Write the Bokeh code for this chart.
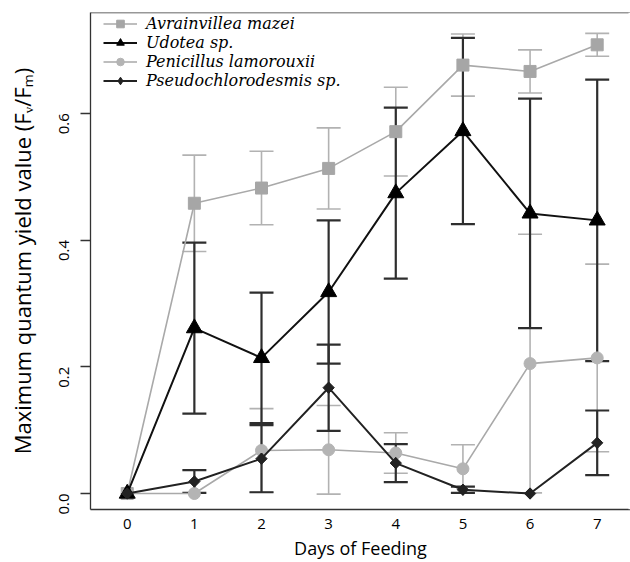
import math
from bokeh.plotting import figure
from bokeh.models import (ColumnDataSource, Legend, LegendItem, FixedTicker,
                          Range1d, Span)
from bokeh.embed import file_html
from bokeh.resources import INLINE

# ---------------- data ----------------
days = [0, 1, 2, 3, 4, 5, 6, 7]
avr_mean = [0.0, 0.458, 0.482, 0.513, 0.571, 0.676, 0.666, 0.708]
avr_err = [0.0, 0.076, 0.058, 0.064, 0.070, 0.049, 0.034, 0.018]
udo_mean = [0.0, 0.261, 0.214, 0.318, 0.474, 0.572, 0.442, 0.431]
udo_err = [0.0, 0.135, 0.103, 0.113, 0.135, 0.147, 0.181, 0.222]
pen_mean = [0.0, 0.0, 0.068, 0.069, 0.064, 0.039, 0.205, 0.214]
pen_err = [0.0, 0.0, 0.066, 0.070, 0.032, 0.038, 0.204, 0.148]
pse_mean = [0.0, 0.019, 0.055, 0.167, 0.048, 0.006, 0.0, 0.080]
pse_err = [0.0, 0.018, 0.053, 0.068, 0.030, 0.005, 0.0, 0.051]

series_names = ["Avrainvillea mazei", "Udotea sp.", "Penicillus lamorouxii",
                "Pseudochlorodesmis sp."]
x_ticks = [0, 1, 2, 3, 4, 5, 6, 7]
y_ticks = [0.0, 0.2, 0.4, 0.6]
y_tick_labels = ["0.0", "0.2", "0.4", "0.6"]
x_title = "Days of Feeding"
y_title = "Maximum quantum yield value (F\u1d65/F\u2098)"

GRAY_LINE = "#a9a9a9"
GRAY_ERR = "#b2b2b2"
BLACK_ERR = "#2e2e2e"
X_END = 7.496
Y_TOP = 0.759

p = figure(width=630, height=562,
           x_range=Range1d(-0.547, X_END), y_range=Range1d(-0.0252, Y_TOP),
           output_backend="svg", toolbar_location=None,
           min_border_left=90, min_border_right=0, min_border_top=12,
           min_border_bottom=52)
p.grid.visible = False
p.outline_line_color = None
p.outline_line_alpha = 0
p.background_fill_color = "white"
p.border_fill_color = "white"


def err_source(x, m, e):
    keep = [i for i in range(len(x)) if e[i] > 0]
    return ColumnDataSource(dict(
        x=[x[i] for i in keep],
        up=[m[i] + e[i] for i in keep],
        lo=[m[i] - e[i] for i in keep],
    ))


def add_err(x, m, e, color, width):
    src = err_source(x, m, e)
    p.segment(x0="x", y0="lo", x1="x", y1="up", source=src,
              line_color=color, line_width=width)
    p.scatter(x="x", y="up", source=src, marker="dash", size=24,
              line_color=color, line_width=width)
    p.scatter(x="x", y="lo", source=src, marker="dash", size=24,
              line_color=color, line_width=width)


# error bars (gray first, black on top)
add_err(days, avr_mean, avr_err, GRAY_ERR, 1.6)
add_err(days, pen_mean, pen_err, GRAY_ERR, 1.6)
add_err(days, udo_mean, udo_err, BLACK_ERR, 2.2)
add_err(days, pse_mean, pse_err, BLACK_ERR, 2.2)

# series lines + markers
l_avr = p.line(days, avr_mean, line_color=GRAY_LINE, line_width=1.6)
s_avr = p.scatter(days, avr_mean, marker="square", size=12,
                  fill_color="#a6a6a6", line_color="#a6a6a6")
l_pen = p.line(days, pen_mean, line_color=GRAY_LINE, line_width=1.6)
s_pen = p.scatter(days, pen_mean, marker="circle", size=12,
                  fill_color="#b4b4b4", line_color="#b4b4b4")
l_udo = p.line(days, udo_mean, line_color="#111111", line_width=2.0)
s_udo = p.scatter(days, udo_mean, marker="triangle", size=16,
                  fill_color="black", line_color="black")
l_pse = p.line(days, pse_mean, line_color="#222222", line_width=2.0)
# diamond used for the legend swatch; the rotated square on top gives the
# plot's square-shaped diamond
s_pse_leg = p.scatter(days, pse_mean, marker="diamond", size=11,
                      fill_color="#222222", line_color="#222222")
s_pse = p.scatter(days, pse_mean, marker="square", angle=math.pi / 4, size=8,
                  fill_color="#222222", line_color="#222222")

legend = Legend(items=[
    LegendItem(label=series_names[0], renderers=[l_avr, s_avr]),
    LegendItem(label=series_names[1], renderers=[l_udo, s_udo]),
    LegendItem(label=series_names[2], renderers=[l_pen, s_pen]),
    LegendItem(label=series_names[3], renderers=[l_pse, s_pse_leg]),
], location=(11, 417), orientation="vertical", glyph_width=34,
    glyph_height=19, label_height=19, spacing=0, padding=2, margin=0,
    label_standoff=9, label_text_font="DejaVu Serif",
    label_text_font_style="italic", label_text_font_size="16px",
    label_text_color="black",
    border_line_alpha=0, background_fill_alpha=0)
p.add_layout(legend)

# axes
AX_COL = "#333333"
xa = p.xaxis[0]
xa.ticker = FixedTicker(ticks=x_ticks)
xa.major_tick_out = 0
xa.major_tick_in = 0
xa.minor_tick_out = 0
xa.minor_tick_in = 0
xa.axis_line_color = AX_COL
xa.axis_line_width = 1.3
xa.major_label_text_font = "Open Sans"
xa.major_label_text_font_size = "15px"
xa.major_label_text_color = "black"
xa.major_label_standoff = 9
xa.axis_label = x_title
xa.axis_label_text_font = "Open Sans"
xa.axis_label_text_font_size = "18px"
xa.axis_label_text_font_style = "normal"
xa.axis_label_text_color = "black"
xa.axis_label_standoff = 4

ya = p.yaxis[0]
ya.ticker = FixedTicker(ticks=y_ticks)
ya.major_label_overrides = {t: s for t, s in zip(y_ticks, y_tick_labels)}
ya.major_tick_out = 10
ya.major_tick_in = 0
ya.minor_tick_out = 0
ya.minor_tick_in = 0
ya.major_tick_line_color = AX_COL
ya.major_tick_line_width = 1.3
ya.axis_line_color = AX_COL
ya.axis_line_width = 1.3
ya.major_label_orientation = math.pi / 2
ya.major_label_text_font = "Open Sans"
ya.major_label_text_font_size = "15px"
ya.major_label_text_color = "black"
ya.major_label_standoff = 16
ya.axis_label = y_title
ya.axis_label_text_font = "Open Sans"
ya.axis_label_text_font_size = "22px"
ya.axis_label_text_font_style = "normal"
ya.axis_label_text_color = "black"
ya.axis_label_standoff = 15

# top edge of the plot box
p.add_layout(Span(location=Y_TOP, dimension="width", line_color=AX_COL,
                  line_width=1.3))
# the box continues past the cropped right edge: keep that edge open
p.add_layout(Span(location=X_END, dimension="height", line_color="white",
                  line_width=4))

open("out.html", "w").write(file_html(p, INLINE))
